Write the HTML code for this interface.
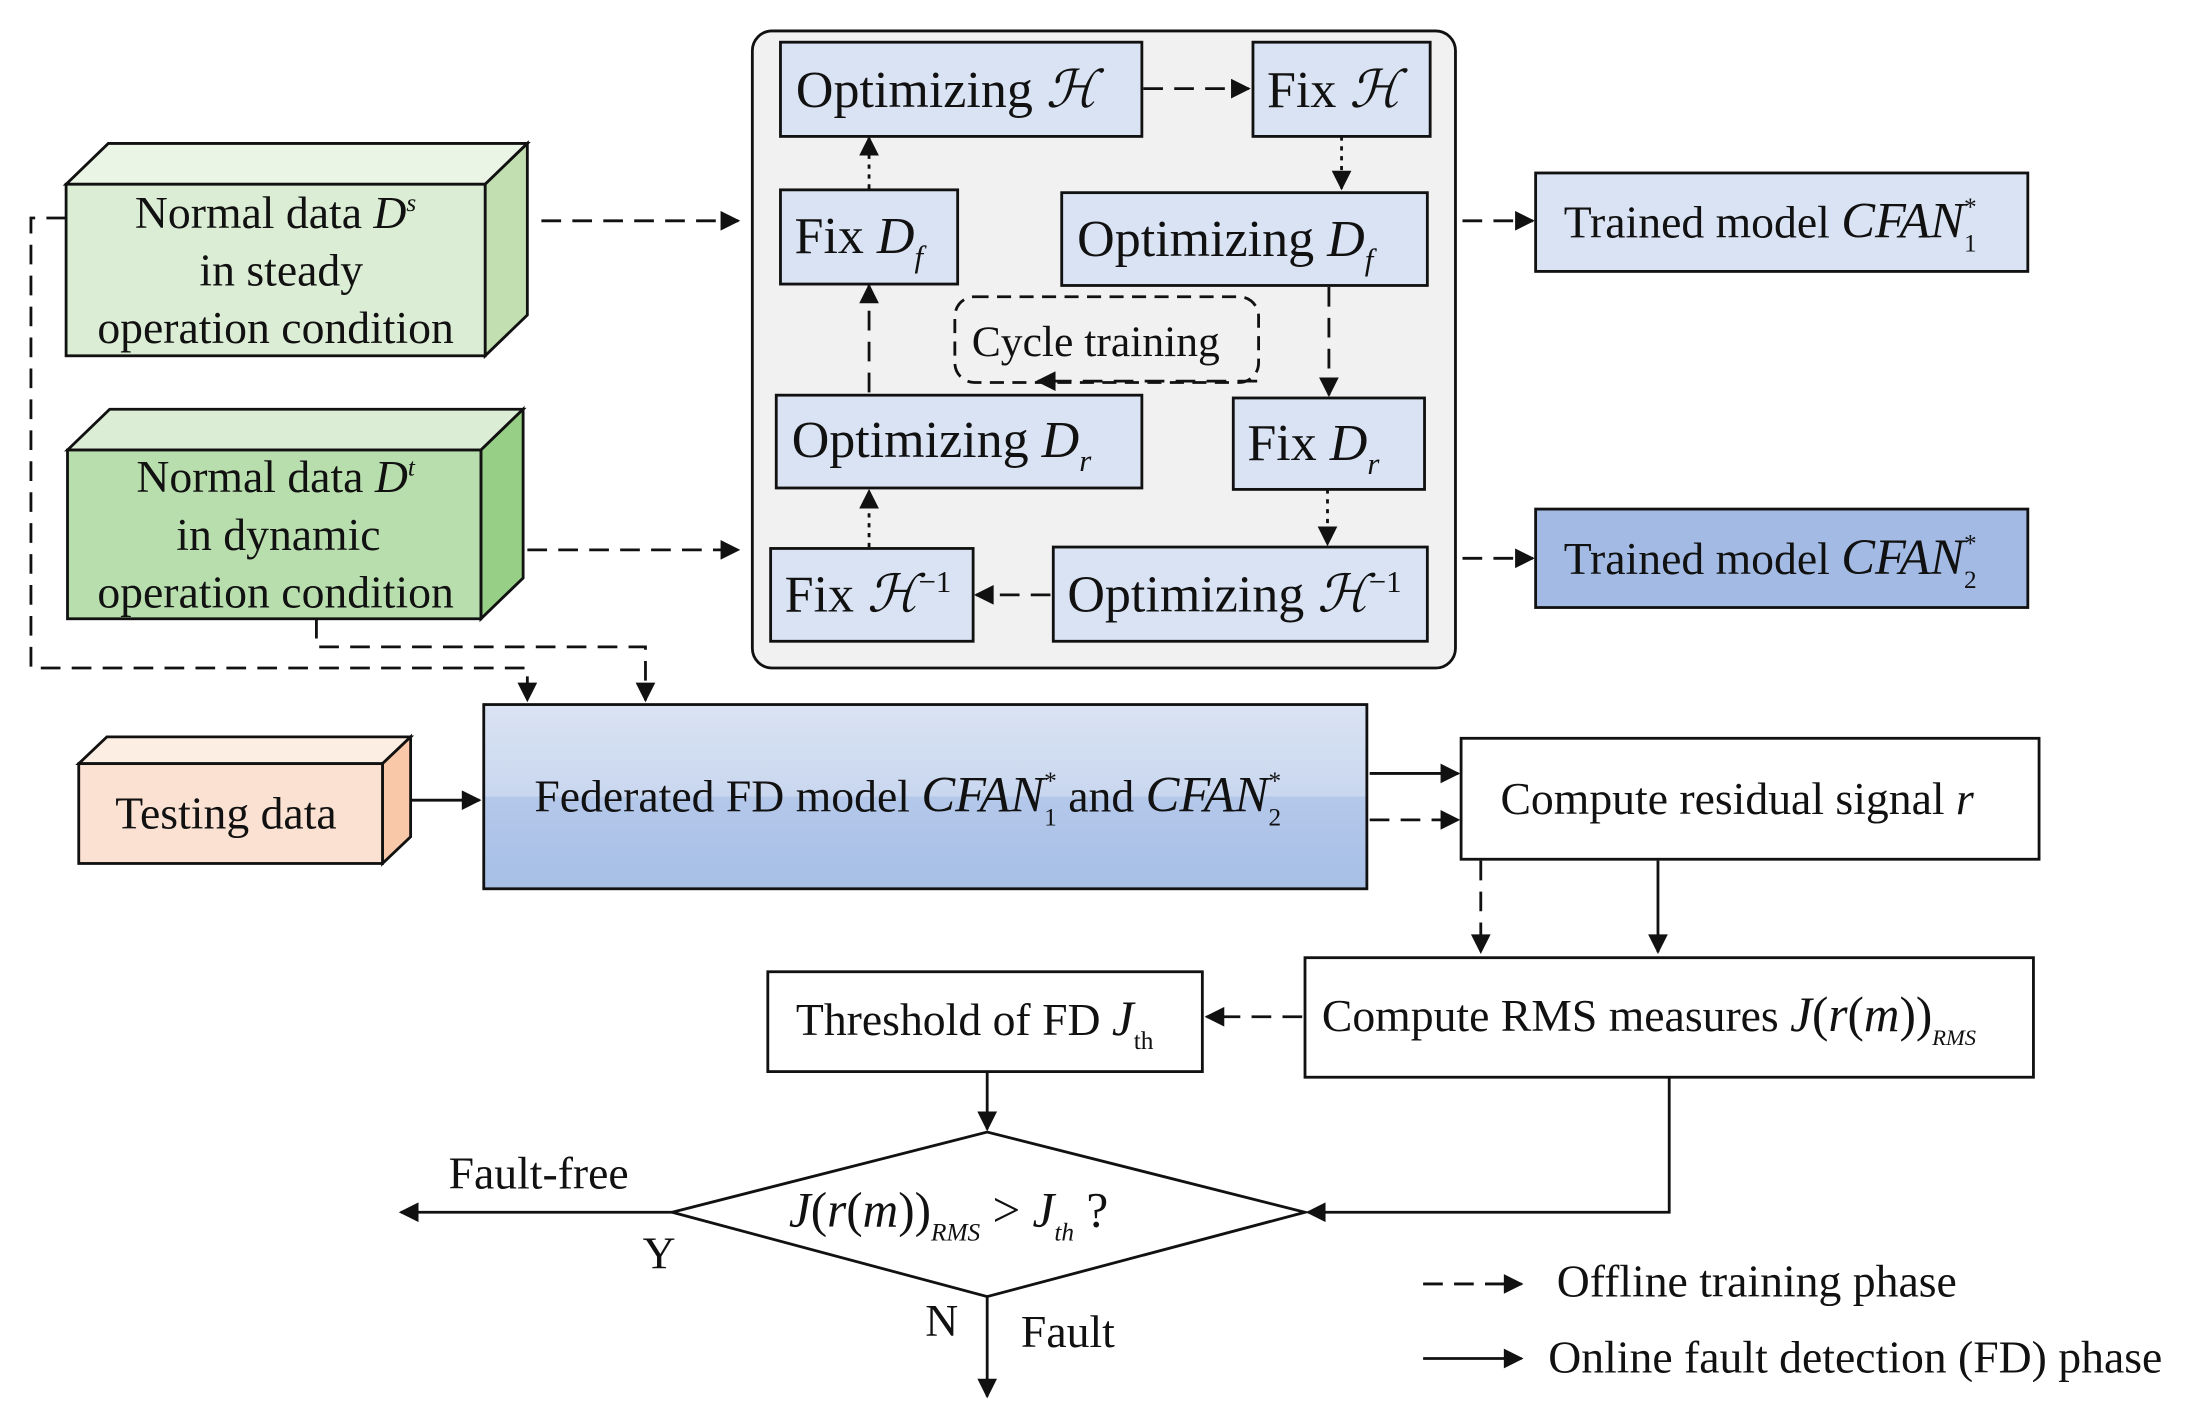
<!DOCTYPE html>
<html><head><meta charset="utf-8"><style>
html,body{margin:0;padding:0;background:#fff;}
svg{display:block;}
text{font-family:"Liberation Serif",serif;fill:#111;}
.i{font-style:italic;}
</style></head><body>
<svg width="2205" height="1425" viewBox="0 0 1568 1013.3" preserveAspectRatio="none" xmlns="http://www.w3.org/2000/svg">
<defs>
<marker id="b" viewBox="0 0 10 10" refX="9" refY="5" markerWidth="16" markerHeight="14" orient="auto" markerUnits="userSpaceOnUse"><path d="M0,0 L10,5 L0,10 Z" fill="#111"/></marker>
<linearGradient id="g" x1="0" y1="0" x2="0" y2="1"><stop offset="0" stop-color="#dae3f3"/><stop offset="0.5" stop-color="#c9d7ef"/><stop offset="0.5" stop-color="#b4c8ea"/><stop offset="1" stop-color="#a7bfe6"/></linearGradient>
</defs>
<g stroke="#111" stroke-width="2">
<rect x="535" y="22" width="500" height="453" rx="14" fill="#f1f1f1"/>
<g fill="#dae3f3">
<rect x="555" y="30" width="257" height="67"/>
<rect x="891" y="30" width="126" height="67"/>
<rect x="555" y="135" width="126" height="67"/>
<rect x="755" y="137" width="260" height="66"/>
<rect x="552" y="281" width="260" height="66"/>
<rect x="877" y="283" width="136" height="65"/>
<rect x="548" y="390" width="144" height="66"/>
<rect x="749" y="389" width="266" height="67"/>
<rect x="1092" y="123" width="350" height="70"/>
</g>
<rect x="1092" y="362" width="350" height="70" fill="#a3bbe4"/>
<rect x="679" y="211" width="216" height="61" rx="14" fill="none" stroke-dasharray="10,6"/>
<path d="M47,131 L77,102 L375,102 L345,131 Z" fill="#ebf5e5"/>
<path d="M345,131 L375,102 L375,224 L345,253 Z" fill="#c1dfb1"/>
<rect x="47" y="131" width="298" height="122" fill="#dcedd5"/>
<path d="M48,320 L78,291 L372,291 L342,320 Z" fill="#dcedd5"/>
<path d="M342,320 L372,291 L372,411 L342,440 Z" fill="#98cf86"/>
<rect x="48" y="320" width="294" height="120" fill="#b9deae"/>
<path d="M56,543 L76,524 L292,524 L272,543 Z" fill="#fdeee4"/>
<path d="M272,543 L292,524 L292,595 L272,614 Z" fill="#f8c8a8"/>
<rect x="56" y="543" width="216" height="71" fill="#fbe1d2"/>
<rect x="344" y="501" width="628" height="131" fill="url(#g)"/>
<rect x="1039" y="525" width="411" height="86" fill="#fff"/>
<rect x="928" y="681" width="518" height="85" fill="#fff"/>
<rect x="546" y="691" width="309" height="71" fill="#fff"/>
<path d="M478,862 L702,805 L928,862 L702,922 Z" fill="#fff"/>
</g>
<g stroke="#111" stroke-width="2" fill="none">
<g stroke-dasharray="14,8">
<line x1="385" y1="157" x2="525" y2="157" marker-end="url(#b)"/>
<line x1="375" y1="391" x2="525" y2="391" marker-end="url(#b)"/>
<line x1="813" y1="63" x2="888" y2="63" marker-end="url(#b)"/>
<line x1="1040" y1="157" x2="1090" y2="157" marker-end="url(#b)"/>
<line x1="1040" y1="397" x2="1090" y2="397" marker-end="url(#b)"/>
<line x1="945" y1="204" x2="945" y2="281" marker-end="url(#b)"/>
<line x1="894" y1="271" x2="738" y2="271" marker-end="url(#b)"/>
<line x1="747" y1="423" x2="694" y2="423" marker-end="url(#b)"/>
<polyline points="47,155 22,155 22,475 375,475 375,498" marker-end="url(#b)"/>
<polyline points="225,440 225,460 459,460 459,498" marker-end="url(#b)"/>
<line x1="974" y1="583" x2="1037" y2="583" marker-end="url(#b)"/>
<line x1="1053" y1="612" x2="1053" y2="677" marker-end="url(#b)"/>
<line x1="926" y1="723" x2="858" y2="723" marker-end="url(#b)"/>
<line x1="1012" y1="913" x2="1082" y2="913" marker-end="url(#b)"/>
<line x1="618" y1="279" x2="618" y2="203" marker-end="url(#b)"/>
</g>
<g stroke-dasharray="3,4">
<line x1="954" y1="97" x2="954" y2="134" marker-end="url(#b)"/>
<line x1="618" y1="134" x2="618" y2="98" marker-end="url(#b)"/>
<line x1="944" y1="348" x2="944" y2="387" marker-end="url(#b)"/>
<line x1="618" y1="389" x2="618" y2="349" marker-end="url(#b)"/>
</g>
<line x1="292" y1="569" x2="341" y2="569" marker-end="url(#b)"/>
<line x1="974" y1="550" x2="1037" y2="550" marker-end="url(#b)"/>
<line x1="1179" y1="612" x2="1179" y2="677" marker-end="url(#b)"/>
<line x1="702" y1="762" x2="702" y2="803" marker-end="url(#b)"/>
<polyline points="1187,766 1187,862 930,862" marker-end="url(#b)"/>
<line x1="478" y1="862" x2="285" y2="862" marker-end="url(#b)"/>
<line x1="702" y1="922" x2="702" y2="993" marker-end="url(#b)"/>
<line x1="1012" y1="966" x2="1082" y2="966" marker-end="url(#b)"/>
</g>
<g font-size="37">
<text x="566" y="76">Optimizing  <tspan class="i">ℋ</tspan></text>
<text x="901" y="76">Fix <tspan class="i">ℋ</tspan></text>
<text x="565" y="180">Fix <tspan class="i">D</tspan><tspan class="i" font-size="22" dy="10">f</tspan></text>
<text x="766" y="182">Optimizing   <tspan class="i">D</tspan><tspan class="i" font-size="22" dy="10">f</tspan></text>
<text x="563" y="325">Optimizing   <tspan class="i">D</tspan><tspan class="i" font-size="22" dy="10">r</tspan></text>
<text x="887" y="327">Fix <tspan class="i">D</tspan><tspan class="i" font-size="22" dy="10">r</tspan></text>
<text x="558" y="435">Fix <tspan class="i">ℋ</tspan><tspan font-size="22" dy="-14">−1</tspan></text>
<text x="759" y="435">Optimizing  <tspan class="i">ℋ</tspan><tspan font-size="22" dy="-14">−1</tspan></text>
</g>
<text x="691" y="253" font-size="31">Cycle training</text>
<g font-size="32.5">
<text x="1112" y="169">Trained model  <tspan class="i" font-size="36">CFAN</tspan><tspan font-size="18" dy="10">1</tspan><tspan font-size="18" dx="-9" dy="-26">*</tspan></text>
<text x="1112" y="408">Trained model  <tspan class="i" font-size="36">CFAN</tspan><tspan font-size="18" dy="10">2</tspan><tspan font-size="18" dx="-9" dy="-26">*</tspan></text>
<g text-anchor="middle">
<text x="196" y="162">Normal data <tspan class="i">D</tspan><tspan class="i" font-size="18" dy="-12">s</tspan></text>
<text x="200" y="203">in steady</text>
<text x="196" y="244">operation condition</text>
<text x="196" y="350">Normal data <tspan class="i">D</tspan><tspan class="i" font-size="18" dy="-12">t</tspan></text>
<text x="198" y="391">in dynamic</text>
<text x="196" y="432">operation condition</text>
</g>
<text x="82" y="589">Testing data</text>
<text x="380" y="577">Federated FD model  <tspan class="i" font-size="36">CFAN</tspan><tspan font-size="18" dy="10">1</tspan><tspan font-size="18" dx="-9" dy="-26">*</tspan><tspan dy="16">  and  </tspan><tspan class="i" font-size="36">CFAN</tspan><tspan font-size="18" dy="10">2</tspan><tspan font-size="18" dx="-9" dy="-26">*</tspan></text>
<text x="1067" y="579">Compute residual signal <tspan class="i">r</tspan></text>
<text x="940" y="733">Compute RMS measures <tspan class="i" font-size="35">J</tspan><tspan font-size="35">(</tspan><tspan class="i" font-size="35">r</tspan><tspan font-size="35">(</tspan><tspan class="i" font-size="35">m</tspan><tspan font-size="35">))</tspan><tspan class="i" font-size="16" dy="10">RMS</tspan></text>
<text x="566" y="736">Threshold of FD <tspan class="i" font-size="35">J</tspan><tspan font-size="18" dy="10">th</tspan></text>
<text x="561" y="872" font-size="35"><tspan class="i">J</tspan>(<tspan class="i">r</tspan>(<tspan class="i">m</tspan>))<tspan class="i" font-size="18" dy="10">RMS</tspan><tspan dy="-10"> &gt; </tspan><tspan class="i">J</tspan><tspan class="i" font-size="18" dy="10">th</tspan><tspan dy="-10"> ?</tspan></text>
<text x="319" y="845">Fault-free</text>
<text x="457" y="902">Y</text>
<text x="658" y="950">N</text>
<text x="726" y="958">Fault</text>
<text x="1107" y="922">Offline training phase</text>
<text x="1101" y="976">Online fault detection (FD) phase</text>
</g>
</svg>
</body></html>
